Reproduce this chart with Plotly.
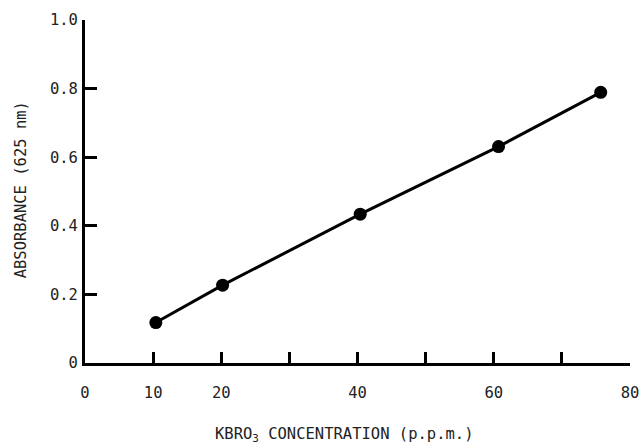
import plotly.graph_objects as go

concentration = [10.4, 20.2, 40.4, 60.7, 75.7]
absorbance = [0.118, 0.227, 0.434, 0.631, 0.789]

x_label_vals = [0, 10, 20, 40, 60, 80]
x_label_text = ["0", "10", "20", "40", "60", "80"]
x_minor_vals = [30, 50, 70]
y_tick_vals = [0, 0.2, 0.4, 0.6, 0.8, 1.0]
y_tick_text = ["0", "0.2", "0.4", "0.6", "0.8", "1.0"]

FONT = "DejaVu Sans Mono"

fig = go.Figure()
fig.add_trace(go.Scatter(
    x=concentration, y=absorbance, mode="lines+markers",
    line=dict(color="black", width=3),
    marker=dict(color="black", size=13),
    showlegend=False,
))

fig.update_layout(
    width=641, height=444,
    margin=dict(l=85, r=11, t=20, b=81),
    paper_bgcolor="white", plot_bgcolor="white",
    font=dict(family=FONT, size=15.5, color="#222"),
    xaxis=dict(
        range=[0, 80], showgrid=False, zeroline=False, automargin=False,
        showline=True, linecolor="black", linewidth=3,
        tickmode="array", tickvals=x_label_vals, ticktext=x_label_text,
        ticks="inside", ticklen=11, tickwidth=3, tickcolor="black",
        ticklabelstandoff=13,
        minor=dict(tickmode="array", tickvals=x_minor_vals, ticks="inside",
                   ticklen=11, tickwidth=3, tickcolor="black", showgrid=False),
    ),
    yaxis=dict(
        range=[0, 1.0], showgrid=False, zeroline=False, automargin=False,
        showline=True, linecolor="black", linewidth=3,
        tickmode="array", tickvals=y_tick_vals, ticktext=y_tick_text,
        ticks="inside", ticklen=12, tickwidth=3, tickcolor="black",
        ticklabelstandoff=1,
    ),
    annotations=[
        dict(text="KBRO<sub>3</sub> CONCENTRATION (p.p.m.)", xref="paper", yref="paper",
             x=0.477, y=-0.21, xanchor="center", yanchor="middle", showarrow=False,
             font=dict(family=FONT, size=15.5, color="#222")),
        dict(text="ABSORBANCE (625 nm)", xref="paper", yref="paper",
             x=-0.117, y=0.504, xanchor="center", yanchor="middle", showarrow=False,
             textangle=-90, font=dict(family=FONT, size=15.5, color="#222")),
    ],
)

fig.write_html("out.html", config={"displayModeBar": False},
               post_script="document.body.style.margin='0';document.body.style.overflow='hidden';")
